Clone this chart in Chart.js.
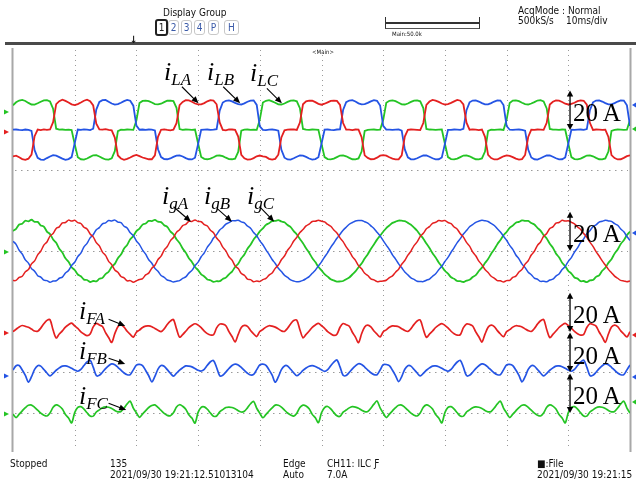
<!DOCTYPE html>
<html><head><meta charset="utf-8">
<script src="https://cdn.jsdelivr.net/npm/chart.js@4"></script>
<style>
html,body{margin:0;padding:0;background:#fff;}
#wrap{position:relative;width:636px;height:482px;overflow:hidden;background:#fff;}
#c{position:absolute;left:0;top:0;}
.t{position:absolute;font-family:"DejaVu Sans Condensed","DejaVu Sans",sans-serif;font-size:10px;color:#111;white-space:nowrap;line-height:11px;}
.lab{position:absolute;font-family:"Liberation Serif","Times New Roman",serif;font-style:italic;color:#000;white-space:nowrap;line-height:26px;font-size:26px;}
.lab .s{font-size:17px;vertical-align:-5px;}
.amp{position:absolute;font-family:"Liberation Serif","Times New Roman",serif;color:#000;white-space:nowrap;line-height:25px;font-size:25px;}
.btn{position:absolute;top:20px;height:13px;width:9px;border:1px solid #c8c8c8;border-radius:3px;font-family:"DejaVu Sans Condensed",sans-serif;font-size:10px;line-height:13px;text-align:center;color:#3a5aa8;}
</style></head>
<body><div id="wrap">
<canvas id="c" width="636" height="482"></canvas>

<div class="t" style="left:163px;top:7px">Display Group</div>
<div class="btn" style="left:155px;border:2px solid #222;top:19px;color:#222">1</div>
<div class="btn" style="left:168px">2</div>
<div class="btn" style="left:181px">3</div>
<div class="btn" style="left:194px">4</div>
<div class="btn" style="left:208px">P</div>
<div class="btn" style="left:224px;width:13px">H</div>
<div style="position:absolute;left:385px;top:17px;width:93px;height:11px;border-left:1px solid #333;border-right:1px solid #333;border-bottom:1px solid #555"></div>
<div style="position:absolute;left:386px;top:22px;width:93px;height:2px;background:#333"></div>
<div class="t" style="left:392px;top:30px;font-size:6px;line-height:7px">Main:50.0k</div>
<div class="t" style="left:518px;top:5px">AcqMode : Normal</div>
<div class="t" style="left:518px;top:15px">500kS/s</div>
<div class="t" style="left:566px;top:15px">10ms/div</div>
<div class="t" style="left:130px;top:34px;font-size:10px;font-weight:bold">↓</div>
<div class="t" style="left:312px;top:48px;font-size:6px;line-height:7px">&lt;Main&gt;</div>

<div class="t" style="left:10px;top:458px">Stopped</div>
<div class="t" style="left:110px;top:458px">135</div>
<div class="t" style="left:110px;top:469px">2021/09/30 19:21:12.51013104</div>
<div class="t" style="left:283px;top:458px">Edge</div>
<div class="t" style="left:283px;top:469px">Auto</div>
<div class="t" style="left:327px;top:458px">CH11: ILC Ƒ</div>
<div class="t" style="left:327px;top:469px">7.0A</div>
<div class="t" style="left:537px;top:458px">■:File</div>
<div class="t" style="left:537px;top:469px">2021/09/30 19:21:15</div>

<div class="lab" style="left:164px;top:59px">i<span class="s">LA</span></div>
<div class="lab" style="left:207px;top:59px">i<span class="s">LB</span></div>
<div class="lab" style="left:250px;top:60px">i<span class="s">LC</span></div>
<div class="lab" style="left:162px;top:183px">i<span class="s">gA</span></div>
<div class="lab" style="left:204px;top:183px">i<span class="s">gB</span></div>
<div class="lab" style="left:247px;top:183px">i<span class="s">gC</span></div>
<div class="lab" style="left:79px;top:298px">i<span class="s">FA</span></div>
<div class="lab" style="left:79px;top:338px">i<span class="s">FB</span></div>
<div class="lab" style="left:79px;top:383px">i<span class="s">FC</span></div>

<div class="amp" style="left:573px;top:100px">20 A</div>
<div class="amp" style="left:573px;top:221px">20 A</div>
<div class="amp" style="left:573px;top:302px">20 A</div>
<div class="amp" style="left:573px;top:343px">20 A</div>
<div class="amp" style="left:573px;top:383px">20 A</div>
</div>
<script>
// sample times (ms), 0.5 ms step over the 100 ms record (10 ms/div x 10 div)
const timeMs = Array.from({length: 201}, (_, i) => i * 0.5);

// converter-side currents iL (A)
const iLA = [
-13.4,-13.1,-13.9,-14.8,-15.2,-14.6,-12.5,-3.2,0.2,-0.1,0.3,0,0.2,3.9,13.1,14.6,15.3,14.7,13.9,13.0,12.6,13.1,13.9,14.8,15.3,14.6,12.4,3.2,0.3,0.1,0.4,0,-0.2,-3.9,-13.0,-14.5,-15.2,-14.7,-14.0,-13.2,
-12.7,-13.3,-14.0,-14.5,-14.9,-14.9,-12.9,-3.5,0.1,0.3,0,-0.2,0.1,3.4,12.6,14.2,15.1,15.0,14.3,13.4,13.0,13.0,13.6,14.5,15.1,14.9,13.0,3.8,0,-0.2,0.3,0.2,0,-3.4,-12.6,-14.4,-15.1,-15.0,-14.3,-13.4,
-13.0,-13.4,-13.7,-14.7,-15.1,-14.7,-12.6,-3.8,-0.2,0.1,0.2,0.3,0,3.7,13.0,14.5,14.9,14.8,14.1,13.2,12.8,13.3,14.0,14.7,14.9,14.7,12.7,3.5,0.2,0.1,-0.1,0.2,0.1,-3.7,-12.9,-14.2,-14.9,-14.8,-14.1,-13.1,
-12.8,-13.1,-13.9,-14.6,-15.0,-14.9,-12.9,-3.4,0,0.2,0.1,0,-0.1,3.5,12.7,14.4,15.2,14.9,14.2,13.4,12.9,13.1,13.7,14.5,15.2,14.8,12.9,3.7,0.1,0.3,0.1,-0.1,0.2,-3.5,-12.7,-14.3,-15.0,-15.0,-14.2,-13.4,
-12.9,-13.2,-13.8,-14.6,-15.1,-14.8,-12.7,-3.6,0.1,0,0.2,0.1,0,3.6,12.9,14.3,15.0,14.9,14.2,13.3,12.9,13.2,13.8,14.6,15.0,14.8,12.8,3.6,0,0.2,0.1,0,0.1,-3.6,-12.8,-14.3,-15.0,-14.9,-14.2,-13.3,
-12.9];
const iLB = [
0.1,0.2,0,-0.1,0.2,0,-0.5,-10.3,-14.2,-15.1,-15.2,-14.3,-13.5,-12.8,-13.1,-13.8,-14.6,-15.2,-14.8,-13.8,-6.8,0.2,0,0.3,0.1,-0.1,0.6,10.3,14.2,15.1,15.2,14.3,13.4,12.8,13.1,13.8,14.6,15.2,14.8,12.3,
2.2,0.1,0.2,0,0.2,0.1,-0.3,-9.8,-13.8,-14.8,-14.9,-14.5,-13.7,-13.1,-12.9,-13.5,-14.3,-14.9,-15.0,-14.1,-7.2,0,0.1,0.2,0,0.1,0.4,9.8,13.9,14.8,15.0,14.5,13.7,13.1,12.9,13.5,14.3,14.9,15.0,12.7,
1.8,0,-0.1,0.1,0.2,0,-0.4,-10.1,-14.1,-15.0,-15.1,-14.4,-13.6,-13.0,-13.1,-13.7,-14.5,-15.1,-14.8,-13.9,-7.0,0.1,0.2,0,-0.1,0.2,0.3,10.1,14.1,14.9,15.1,14.4,13.5,13.0,13.1,13.7,14.5,15.1,14.8,12.4,
2.1,0.2,0.1,0,0.1,0.2,-0.4,-9.9,-13.9,-14.9,-15.0,-14.4,-13.6,-13.0,-13.0,-13.6,-14.4,-15.0,-14.9,-14.0,-7.1,0,0,0.2,0.1,0,0.5,10.0,14.0,14.9,15.0,14.4,13.6,13.0,13.0,13.6,14.4,15.0,14.9,12.6,
2.0,0.1,0,0.1,0.2,0,-0.4,-10.0,-14.0,-14.9,-15.1,-14.4,-13.6,-13.0,-13.0,-13.6,-14.4,-15.0,-14.9,-14.0,-7.0,0.1,0,0.1,0.2,0,0.4,10.0,14.0,14.9,15.0,14.4,13.6,13.0,13.0,13.6,14.4,15.0,14.9,12.5,
2.0];
const iLC = [
12.5,14.0,14.9,15.2,14.7,13.7,12.9,12.8,13.5,14.3,15.0,15.1,14.4,10.8,0.6,0.1,0.2,0,0.1,-0.1,-7.2,-13.9,-14.9,-15.1,-14.5,-13.7,-12.9,-12.8,-13.5,-14.3,-15.0,-15.1,-14.4,-10.8,-0.6,0.1,0,0.2,0.1,0,
4.8,13.6,14.7,14.9,14.6,13.9,13.1,13.0,13.3,14.1,14.8,14.9,14.6,11.2,0.4,0,0.2,0.1,0,0.2,-6.9,-13.7,-14.7,-14.9,-14.6,-13.9,-13.1,-13.0,-13.3,-14.1,-14.8,-14.9,-14.6,-11.2,-0.4,0.1,0.2,0,0.1,0,
5.2,13.9,14.8,15.1,14.5,13.8,13.0,12.9,13.4,14.2,14.9,15.0,14.5,11.0,0.5,0.1,0,0.2,0.1,0,-7.1,-13.8,-14.8,-15.0,-14.6,-13.8,-13.0,-12.9,-13.4,-14.2,-14.9,-15.0,-14.5,-11.0,-0.5,0,0.1,0.2,0,0.1,
5.0,13.8,14.8,15.0,14.6,13.8,13.0,12.9,13.4,14.2,14.9,15.0,14.5,11.1,0.5,0.2,0.1,0,0.1,0.2,-7.0,-13.8,-14.8,-15.0,-14.6,-13.8,-13.0,-12.9,-13.4,-14.2,-14.9,-15.0,-14.5,-11.0,-0.5,0.1,0,0.1,0.2,0,
5.1,13.7,14.9,15.0,14.6,13.8,13.1,12.9,13.4,14.1,14.9,15.1,14.5,10.9,0.5,0.1,0.1,0,0.2,0.1,-7.0,-13.8,-14.8,-15.0,-14.6,-13.8,-13.0,-12.9,-13.4,-14.2,-14.9,-15.0,-14.5,-11.0,-0.5,0,0.2,0.1,0,0.1,
5.0];

// grid currents ig (A)
const igA = [
-15.0,-14.9,-13.4,-12.8,-10.5,-9.4,-6.5,-5.0,-1.9,-0.1,3.0,4.6,7.6,8.9,11.5,12.3,14.3,14.5,15.7,15.2,15.6,14.4,14.0,12.1,11.2,8.7,7.2,4.3,2.6,-0.5,-2.2,-5.2,-6.9,-9.6,-10.8,-12.9,-13.6,-15.1,-15.0,-15.8,
-15.1,-14.4,-14.0,-12.1,-11.2,-8.7,-7.2,-4.3,-2.6,0.5,2.3,5.2,6.9,9.5,10.8,12.9,13.6,15.1,15.0,15.8,15.0,14.9,13.4,12.7,10.6,9.3,6.6,4.9,2.0,0.1,-2.9,-4.6,-7.5,-8.9,-11.4,-12.3,-14.2,-14.5,-15.6,-15.2,
-15.5,-14.5,-13.9,-12.2,-11.1,-8.8,-7.1,-4.4,-2.5,0.4,2.4,5.1,7.0,9.4,10.9,12.8,13.7,15.0,15.1,15.7,15.1,14.8,13.5,12.6,10.7,9.2,6.7,4.8,2.1,0,-2.8,-4.7,-7.4,-9.0,-11.3,-12.4,-14.1,-14.6,-15.5,-15.3,
-15.2,-14.8,-13.5,-12.6,-10.7,-9.2,-6.7,-4.8,-2.1,0,2.8,4.7,7.4,9.0,11.3,12.4,14.1,14.6,15.5,15.3,15.5,14.5,13.9,12.2,11.1,8.8,7.1,4.4,2.5,-0.4,-2.4,-5.1,-7.0,-9.4,-10.9,-12.8,-13.7,-15.0,-15.1,-15.7,
-15.0,-14.9,-13.4,-12.7,-10.6,-9.3,-6.6,-4.9,-2.0,-0.1,2.9,4.6,7.5,8.9,11.4,12.3,14.2,14.5,15.6,15.2,15.4,14.6,13.8,12.3,11.0,8.9,7.0,4.5,2.4,-0.3,-2.5,-5.0,-7.1,-9.3,-11.0,-12.7,-13.8,-14.9,-15.2,-15.6,
-15.2];
const igB = [
5.0,3.4,0.4,-1.5,-4.5,-6.1,-8.9,-10.2,-12.5,-13.2,-14.8,-15.0,-15.8,-15.2,-15.1,-13.8,-13.2,-11.1,-9.9,-7.3,-5.7,-2.8,-1.0,2.1,3.9,6.7,8.3,10.8,11.9,13.8,14.3,15.5,15.3,15.7,14.7,14.4,12.6,11.7,9.3,7.9,
5.1,3.3,0.5,-1.6,-4.4,-6.2,-8.8,-10.3,-12.4,-13.3,-14.7,-15.1,-15.7,-15.3,-15.0,-13.9,-13.1,-11.2,-9.8,-7.4,-5.6,-2.9,-0.9,2.0,4.0,6.6,8.4,10.7,12.0,13.7,14.4,15.4,15.4,15.6,14.8,14.3,12.7,11.6,9.4,7.8,
5.2,3.2,0.6,-1.7,-4.3,-6.3,-8.7,-10.4,-12.3,-13.4,-14.6,-15.2,-15.6,-15.4,-14.9,-14.0,-13.0,-11.3,-9.7,-7.5,-5.5,-3.0,-0.8,1.9,4.1,6.5,8.5,10.6,12.1,13.6,14.5,15.3,15.5,15.5,14.9,14.2,12.8,11.5,9.5,7.7,
5.3,3.0,0.8,-1.9,-4.1,-6.5,-8.5,-10.6,-12.1,-13.6,-14.4,-15.3,-15.4,-15.5,-14.8,-14.2,-12.8,-11.5,-9.5,-7.7,-5.3,-3.2,-0.6,1.7,4.3,6.3,8.7,10.4,12.3,13.4,14.6,15.2,15.6,15.4,15.0,14.0,13.0,11.3,9.7,7.5,
5.5,2.9,0.9,-2.0,-4.0,-6.6,-8.4,-10.7,-12.0,-13.7,-14.3,-15.4,-15.3,-15.6,-14.7,-14.3,-12.7,-11.6,-9.4,-7.8,-5.2,-3.3,-0.5,1.6,4.4,6.2,8.8,10.3,12.4,13.3,14.7,15.1,15.7,15.3,15.1,13.9,13.1,11.2,9.8,7.4,
5.4];
const igC = [
10.2,11.3,13.5,13.9,15.4,15.1,15.9,14.8,14.8,13.0,12.4,9.9,8.6,5.9,4.2,1.2,-0.7,-3.7,-5.4,-8.2,-9.6,-11.9,-12.8,-14.5,-14.7,-15.7,-15.2,-15.4,-14.1,-13.6,-11.7,-10.5,-8.0,-6.5,-3.6,-1.8,1.3,3.1,6.0,7.6,
10.1,11.4,13.4,14.0,15.3,15.2,15.8,14.9,14.7,13.1,12.3,10.0,8.5,6.0,4.1,1.3,-0.8,-3.6,-5.5,-8.1,-9.7,-11.8,-12.9,-14.4,-14.8,-15.6,-15.3,-15.3,-14.2,-13.5,-11.8,-10.4,-8.1,-6.4,-3.7,-1.7,1.2,3.2,5.9,7.7,
10.0,11.5,13.3,14.1,15.2,15.3,15.7,15.0,14.6,13.2,12.2,10.1,8.4,6.1,4.0,1.4,-0.9,-3.5,-5.6,-8.0,-9.8,-11.7,-13.0,-14.3,-14.9,-15.5,-15.4,-15.2,-14.3,-13.4,-11.9,-10.3,-8.2,-6.3,-3.8,-1.6,1.1,3.3,5.8,7.8,
9.8,11.7,13.0,14.3,14.9,15.5,15.4,15.2,14.3,13.4,11.9,10.3,8.2,6.3,3.8,1.6,-1.1,-3.3,-5.8,-7.8,-10.0,-11.5,-13.3,-14.1,-15.2,-15.3,-15.7,-15.0,-14.6,-13.2,-12.2,-10.1,-8.4,-6.1,-4.0,-1.4,0.9,3.5,5.6,8.0,
9.7,11.8,12.9,14.4,14.8,15.6,15.3,15.3,14.2,13.5,11.8,10.4,8.1,6.4,3.7,1.7,-1.2,-3.2,-5.9,-7.7,-10.1,-11.4,-13.4,-14.0,-15.3,-15.2,-15.8,-14.9,-14.7,-13.1,-12.3,-10.0,-8.5,-6.0,-4.1,-1.3,0.8,3.6,5.5,8.1,
9.9];

// filter currents iF (A)
const iFA = [
0.2,1.4,2.6,3.3,2.9,2.4,1.5,0.5,0.4,2.0,4.2,5.9,6.2,1.0,-3.0,-1.0,0.6,2.5,3.7,4.5,3.1,1.8,0.1,-1.0,-1.8,-1.0,2.6,4.4,3.6,2.8,-0.3,-2.8,-5.3,-0.8,2.7,3.6,2.5,0.4,-1.2,-2.6,
-0.1,1.0,2.3,3.0,3.1,2.7,1.8,0.9,0.2,1.6,3.8,5.5,6.3,1.6,-2.6,-1.3,0.4,2.2,3.4,4.2,3.5,2.2,0.5,-0.8,-1.5,-1.4,2.1,4.0,4.0,3.2,0.2,-2.3,-5.0,-1.2,2.3,3.4,2.9,0.8,-0.9,-2.3,
0.3,1.3,2.5,3.2,3.0,2.5,1.6,0.6,0.3,1.9,4.1,5.8,6.0,1.2,-2.9,-1.2,0.5,2.4,3.6,4.4,3.2,1.9,0.2,-0.9,-1.7,-1.1,2.4,4.3,3.7,2.9,-0.1,-2.6,-5.4,-0.9,2.6,3.5,2.6,0.5,-1.1,-2.5,
0.1,1.1,2.4,3.1,3.0,2.7,1.7,0.8,0.3,1.7,3.9,5.6,6.1,1.4,-2.7,-1.1,0.5,2.3,3.5,4.3,3.4,2.1,0.4,-0.9,-1.6,-1.3,2.2,4.1,3.9,3.1,0.1,-2.4,-5.1,-1.1,2.4,3.5,2.8,0.7,-1.0,-2.4,
0.2,1.2,2.5,3.2,3.0,2.6,1.6,0.7,0.3,1.8,4.0,5.7,6.4,1.3,-2.8,-1.2,0.5,2.3,3.6,4.4,3.3,2.0,0.3,-0.9,-1.6,-1.2,2.3,4.2,3.8,3.0,0.0,-2.5,-5.2,-1.0,2.5,3.5,2.7,0.6,-1.0,-2.5,
0.2];
const iFB = [
1.0,3.2,3.3,1.0,-1.7,-5.1,-2.4,1.3,3.2,3.0,1.3,-0.5,-2.0,-0.7,0.9,2.1,3.0,3.1,2.7,1.9,1.0,0.4,1.3,3.3,5.1,6.0,2.5,-1.8,-1.7,-0.1,1.7,3.2,4.1,3.7,2.4,0.9,-0.5,-1.4,-1.3,1.1,
3.5,3.9,3.2,0.8,-1.9,-5.0,-2.2,1.5,3.3,2.9,1.2,-0.6,-2.1,-0.6,1.0,2.2,3.1,3.0,2.6,1.8,0.9,0.5,1.4,3.4,5.2,5.8,2.3,-1.9,-1.6,0.0,1.8,3.3,4.0,3.6,2.3,0.8,-0.6,-1.5,-1.2,1.2,
3.6,4.0,3.4,1.1,-1.6,-5.2,-2.5,1.2,3.1,3.1,1.4,-0.4,-1.9,-0.8,0.8,2.0,2.9,3.2,2.8,2.0,1.1,0.3,1.2,3.2,5.0,6.1,2.6,-1.7,-1.8,-0.2,1.6,3.1,4.2,3.8,2.5,1.0,-0.4,-1.3,-1.4,1.0,
3.7,3.8,3.2,0.9,-1.8,-4.9,-2.3,1.4,3.2,3.0,1.3,-0.5,-2.0,-0.7,0.9,2.1,3.0,3.1,2.7,1.9,1.0,0.4,1.3,3.3,5.1,5.9,2.4,-1.8,-1.7,-0.1,1.7,3.2,4.1,3.7,2.4,0.9,-0.5,-1.4,-1.3,1.1,
3.6,3.9,3.3,1.0,-1.7,-5.0,-2.4,1.3,3.2,3.0,1.3,-0.5,-2.0,-0.7,0.9,2.1,3.0,3.1,2.7,1.9,1.0,0.4,1.3,3.3,5.1,6.0,2.5,-1.8,-1.7,-0.1,1.7,3.2,4.1,3.7,2.4,0.9,-0.5,-1.4,-1.3,1.1,
3.6];
const iFC = [
-0.6,-2.3,-0.6,1.1,2.7,3.9,4.0,2.9,1.4,-0.1,-1.1,-1.5,0.0,2.9,4.1,3.5,2.0,-0.8,-2.5,-5.0,0.2,2.8,3.2,2.0,0.1,-1.5,-1.6,0.5,1.6,2.7,3.1,2.9,2.3,1.3,0.6,0.8,2.5,4.6,6.0,2.5,
0.1,-2.2,-0.5,1.2,2.8,3.8,4.1,2.8,1.3,-0.2,-1.2,-1.4,0.1,3.0,4.2,3.4,1.9,-0.9,-2.6,-5.1,0.3,2.9,3.1,1.9,0.0,-1.6,-1.5,0.6,1.7,2.8,3.0,2.8,2.2,1.2,0.5,0.9,2.6,4.7,5.9,2.4,
-0.1,-2.4,-0.7,1.0,2.6,4.0,3.9,3.0,1.5,0.0,-1.0,-1.6,-0.1,2.8,4.0,3.6,2.1,-0.7,-2.4,-4.9,0.1,2.7,3.3,2.1,0.2,-1.4,-1.7,0.4,1.5,2.6,3.2,3.0,2.4,1.4,0.7,0.7,2.4,4.5,6.1,2.6,
0.0,-2.3,-0.6,1.1,2.7,3.9,4.0,2.9,1.4,-0.1,-1.1,-1.5,0.0,2.9,4.1,3.5,2.0,-0.8,-2.5,-5.0,0.2,2.8,3.2,2.0,0.1,-1.5,-1.6,0.5,1.6,2.7,3.1,2.9,2.3,1.3,0.6,0.8,2.5,4.6,6.0,2.5,
0.0,-2.3,-0.6,1.1,2.7,3.9,4.0,2.9,1.4,-0.1,-1.1,-1.5,0.0,2.9,4.1,3.5,2.0,-0.8,-2.5,-5.0,0.2,2.8,3.2,2.0,0.1,-1.5,-1.6,0.5,1.6,2.7,3.1,2.9,2.3,1.3,0.6,0.8,2.5,4.6,6.0,2.5,
0.0];

// ---- layout (screen) settings, kept apart from the data ----
const yTop = 206.6;               // value range of the screen (A, 1.97 px per A)
const zeroLevel = {iL: 163.5, ig: 102.0, iFA: 60.9, iFB: 40.6, iFC: 19.8};
const RED = 'rgb(228,32,32)', BLUE = 'rgb(36,84,228)', GREEN = 'rgb(36,196,36)';

function ds(vals, off, color, w, tension) {
  return {data: vals.map((v, i) => ({x: timeMs[i], y: v + off})), borderColor: color,
          borderWidth: w, pointRadius: 0, tension: tension, fill: false};
}

const gridPlugin = {
  id: 'scopeGrid',
  beforeDatasetsDraw(chart) {
    const {ctx, chartArea: a, scales: {x, y}} = chart;
    ctx.save();
    ctx.fillStyle = '#4a4a4a';
    ctx.fillRect(5, a.top - 3, 631, 3);
    ctx.fillStyle = '#a8a8a8';
    ctx.fillRect(a.left - 1.5, a.top + 3, 2, a.bottom - a.top - 3);
    ctx.fillRect(a.right - 0.5, a.top + 3, 2, a.bottom - a.top - 3);
    ctx.strokeStyle = '#9a9a9a';
    ctx.lineWidth = 1;
    ctx.setLineDash([1, 4]);
    for (let t = 10; t < 100; t += 10) {
      const px = Math.round(x.getPixelForValue(t)) + 0.5;
      ctx.beginPath(); ctx.moveTo(px, a.top + 5); ctx.lineTo(px, a.bottom - 2); ctx.stroke();
    }
    ctx.setLineDash([1.5, 4.5]);
    [143.1, 102.0, 40.8, 19.8].forEach(v => {
      const py = Math.round(y.getPixelForValue(v)) + 0.5;
      ctx.beginPath(); ctx.moveTo(a.left + 2, py); ctx.lineTo(a.right - 2, py); ctx.stroke();
    });
    ctx.setLineDash([]);
    ctx.restore();
  },
  afterDatasetsDraw(chart) {
    const {ctx, chartArea: a, scales: {x, y}} = chart;
    ctx.save();
    ctx.strokeStyle = '#000'; ctx.fillStyle = '#000'; ctx.lineWidth = 1.3;
    function head(x1, y1, x2, y2, L, W) {
      const ang = Math.atan2(y2 - y1, x2 - x1);
      ctx.beginPath();
      ctx.moveTo(x2, y2);
      ctx.lineTo(x2 - L * Math.cos(ang) + W * Math.sin(ang), y2 - L * Math.sin(ang) - W * Math.cos(ang));
      ctx.lineTo(x2 - L * Math.cos(ang) - W * Math.sin(ang), y2 - L * Math.sin(ang) + W * Math.cos(ang));
      ctx.closePath(); ctx.fill();
    }
    const tArrow = 90.28;
    [zeroLevel.iL, zeroLevel.ig, zeroLevel.iFA, zeroLevel.iFB, zeroLevel.iFC].forEach(z => {
      const px = x.getPixelForValue(tArrow);
      const p0 = y.getPixelForValue(z), p1 = y.getPixelForValue(z + 20);
      ctx.beginPath(); ctx.moveTo(px, p0 - 3); ctx.lineTo(px, p1 + 3); ctx.stroke();
      head(px, p1 + 5, px, p1, 6, 3.2);
      head(px, p0 - 5, px, p0, 6, 3.2);
    });
    const ptr = [[27.38,185.4,30.07,177.0],[34.07,185.4,36.82,177.0],[41.15,184.6,43.58,177.0],
                 [26.02,124.5,28.84,116.9],[33.05,123.7,35.48,116.9],[39.95,124.5,42.33,116.9],
                 [15.49,67.4,18.19,64.0],[15.49,47.6,18.19,44.7],[15.49,24.7,18.35,21.3]];
    ctx.lineWidth = 1.1;
    ptr.forEach(p => {
      const x0 = x.getPixelForValue(p[0]), y0 = y.getPixelForValue(p[1]);
      const x1 = x.getPixelForValue(p[2]), y1 = y.getPixelForValue(p[3]);
      ctx.beginPath(); ctx.moveTo(x0, y0); ctx.lineTo(x1 - (x1 - x0) * 0.15, y1 - (y1 - y0) * 0.15); ctx.stroke();
      head(x0, y0, x1, y1, 7, 3);
    });
    const marks = [[-1, 172.6, GREEN], [-1, 162.4, RED], [-1, 101.5, GREEN], [-1, 60.4, RED], [-1, 38.6, BLUE], [-1, 19.3, GREEN],
                   [1, 176.1, BLUE], [1, 164.0, GREEN], [1, 111.2, BLUE], [1, 59.4, RED], [1, 38.1, BLUE], [1, 25.4, GREEN]];
    marks.forEach(m => {
      const py = y.getPixelForValue(m[1]);
      const bx = m[0] < 0 ? a.left - 6 : a.right + 3;
      ctx.fillStyle = m[2];
      ctx.beginPath();
      if (m[0] < 0) { ctx.moveTo(bx - 3, py - 2.5); ctx.lineTo(bx + 2, py); ctx.lineTo(bx - 3, py + 2.5); }
      else { ctx.moveTo(bx + 3, py - 2.5); ctx.lineTo(bx - 1, py); ctx.lineTo(bx + 3, py + 2.5); }
      ctx.closePath(); ctx.fill();
    });
    ctx.restore();
  }
};

new Chart(document.getElementById('c'), {
  type: 'line',
  data: {datasets: [
    ds(iLA, zeroLevel.iL, RED, 1.8, 0), ds(iLB, zeroLevel.iL, BLUE, 1.8, 0), ds(iLC, zeroLevel.iL, GREEN, 1.8, 0),
    ds(igA, zeroLevel.ig, RED, 1.5, 0.3), ds(igB, zeroLevel.ig, BLUE, 1.5, 0.3), ds(igC, zeroLevel.ig, GREEN, 1.8, 0.3),
    ds(iFA, zeroLevel.iFA, RED, 1.7, 0.3), ds(iFB, zeroLevel.iFB, BLUE, 1.7, 0.3), ds(iFC, zeroLevel.iFC, GREEN, 1.7, 0.3)
  ]},
  options: {
    responsive: false, animation: false, devicePixelRatio: 1,
    layout: {padding: {left: 13, right: 6, top: 45, bottom: 30}},
    plugins: {legend: {display: false}, tooltip: {enabled: false}},
    scales: {
      x: {type: 'linear', min: 0, max: 100, display: false},
      y: {type: 'linear', min: 0, max: yTop, display: false}
    }
  },
  plugins: [gridPlugin]
});
</script>
</body></html>
